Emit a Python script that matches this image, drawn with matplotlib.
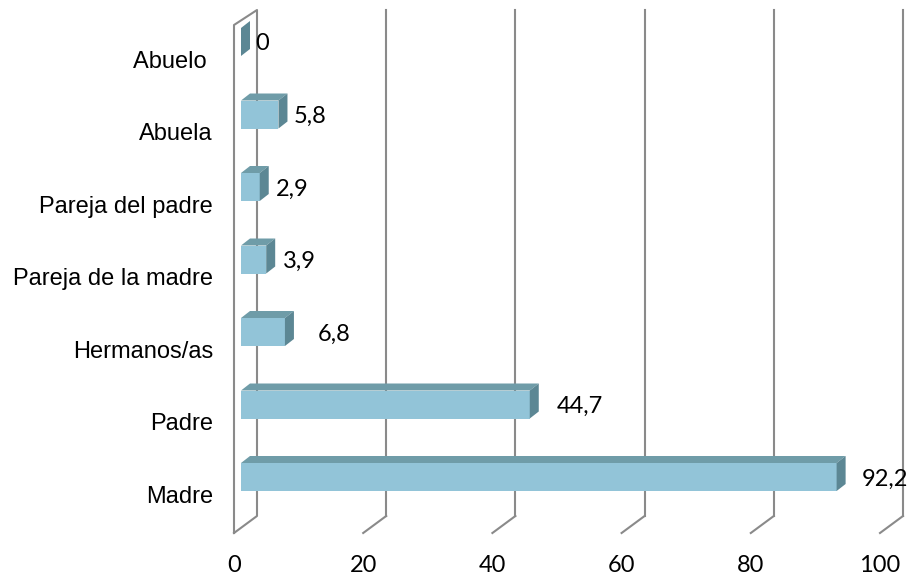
import matplotlib.pyplot as plt
from matplotlib.patches import Polygon

categorias = ['Madre', 'Padre', 'Hermanos/as', 'Pareja de la madre',
              'Pareja del padre', 'Abuela', 'Abuelo ']
valores = [92.2, 44.7, 6.8, 3.9, 2.9, 5.8, 0]
etiquetas = ['92,2', '44,7', '6,8', '3,9', '2,9', '5,8', '0']
ticks = [0, 20, 40, 60, 80, 100]

# nudges of the value labels, in pixels
nudge = [16, 18, 24, 8, 7, 6, 5]

c_front = '#92C4D8'
c_top = '#6F9CA8'
c_side = '#5C8794'
c_grid = '#8A8A8A'

fig = plt.figure(figsize=(9.09, 5.8), dpi=100)
ax = fig.add_axes([0, 0, 1, 1])
ux = 6.46   # px per value unit
uy = 72.5   # px per category
ax.set_xlim(-241 / ux, (909 - 241) / ux)
ax.set_ylim((477 - 580) / uy, 477 / uy)
ax.axis('off')

# 3d box geometry (in data units)
dx_bar, dy_bar = 9 / ux, 7 / uy
h = 14 / uy
dx_front, dx_back = -7 / ux, 16 / ux
y_fb, y_bb = (477 - 533) / uy, (477 - 516) / uy
y_ft, y_bt = (477 - 25) / uy, (477 - 10) / uy

lw = 1.5
# left wall
ax.plot([dx_front, dx_front, dx_back, dx_back, dx_front],
        [y_fb, y_ft, y_bt, y_bb, y_fb], color=c_grid, lw=lw, zorder=1)
for t in ticks[1:]:
    ax.plot([t + dx_back, t + dx_back], [y_bb, y_bt], color=c_grid, lw=lw, zorder=1)
    ax.plot([t + dx_front, t + dx_back], [y_fb, y_bb], color=c_grid, lw=lw, zorder=1)

for i, v in enumerate(valores):
    y0, y1 = i - h, i + h
    front = Polygon([(0, y0), (v, y0), (v, y1), (0, y1)], closed=True,
                    fc=c_front, ec='none', zorder=3)
    top = Polygon([(0, y1), (v, y1), (v + dx_bar, y1 + dy_bar), (dx_bar, y1 + dy_bar)],
                  closed=True, fc=c_top, ec='none', zorder=3)
    side = Polygon([(v, y0), (v, y1), (v + dx_bar, y1 + dy_bar), (v + dx_bar, y0 + dy_bar)],
                   closed=True, fc=c_side, ec='none', zorder=3)
    for p in (front, top, side):
        ax.add_patch(p)
    ax.annotate(etiquetas[i], (v + dx_bar, i), xytext=(nudge[i], -2),
                textcoords='offset pixels', ha='left', va='center',
                fontsize=17, family='Lato', color='black')
    ax.text(-28 / ux, i - 20 / uy, categorias[i], ha='right', va='center',
            fontsize=17, family='Liberation Sans', color='black')

for t in ticks:
    ax.text(t + dx_front, (477 - 566) / uy, str(t), ha='center', va='center',
            fontsize=17, family='Lato', color='black')

fig.savefig('out.png')
